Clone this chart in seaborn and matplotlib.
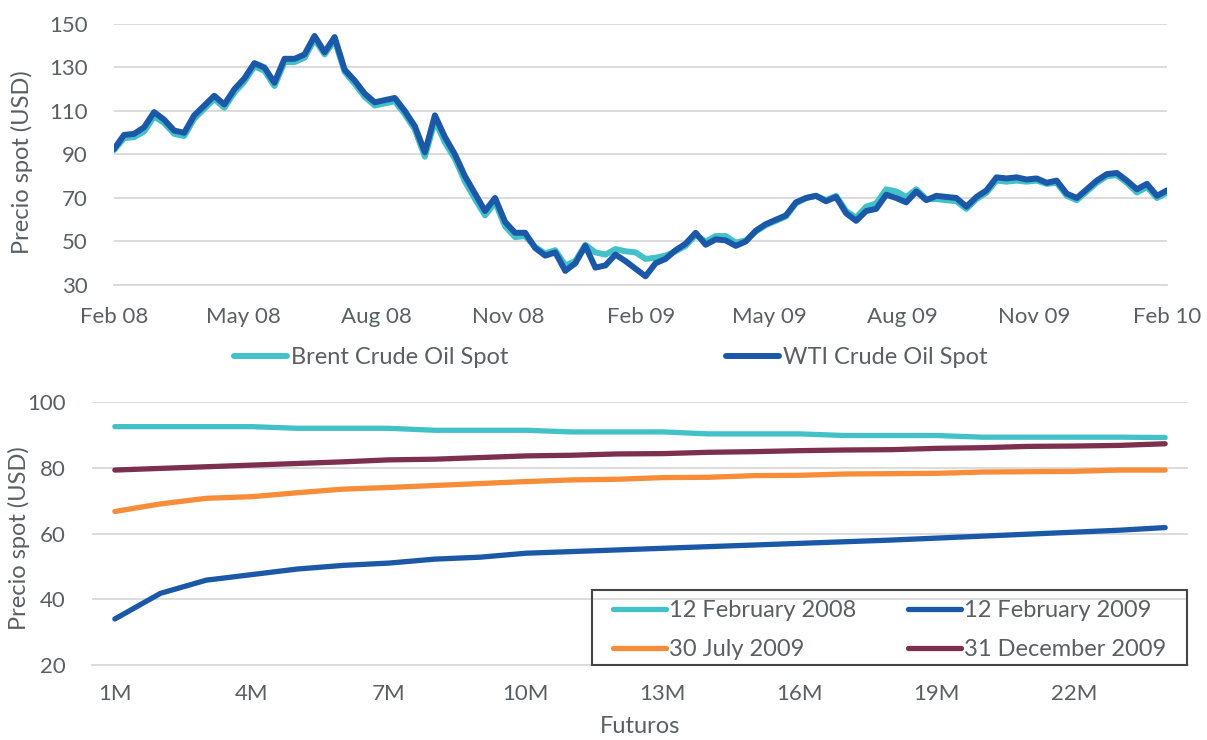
import matplotlib
matplotlib.use("Agg")
import matplotlib.pyplot as plt
import matplotlib.dates as mdates
from matplotlib.patches import Rectangle
import seaborn as sns
import pandas as pd
import numpy as np

# --- top panel: spot prices, roughly weekly from 12 Feb 2008 to 12 Feb 2010
start, end = "2008-02-12", "2010-02-12"
brent = [
    92.0, 97.5, 98.0, 100.5, 107.5, 104.5, 99.5, 98.5, 106.5, 111.0, 115.5, 111.5,
    118.5, 123.5, 130.5, 128.5, 121.5, 132.5, 132.5, 134.5, 143.0, 136.0, 142.5, 128.0,
    122.5, 116.5, 112.5, 113.5, 114.5, 108.5, 101.5, 89.0, 105.5, 95.5, 88.0, 77.5,
    69.5, 62.0, 68.0, 57.0, 52.0, 52.5, 47.5, 44.5, 46.0, 39.0, 41.0, 48.5,
    45.0, 44.0, 46.5, 45.5, 45.0, 42.0, 42.5, 43.5, 45.5, 48.0, 53.0, 50.0,
    52.5, 52.5, 49.5, 50.5, 54.5, 57.5, 59.5, 61.5, 67.5, 70.0, 71.0, 69.0,
    71.0, 64.0, 61.0, 66.0, 67.5, 74.0, 73.0, 70.5, 74.0, 69.5, 69.5, 69.0,
    68.5, 65.0, 69.5, 72.5, 78.0, 77.5, 78.0, 77.5, 78.0, 76.5, 77.0, 71.0,
    69.0, 73.0, 77.0, 80.0, 80.5, 77.0, 72.5, 75.0, 70.0, 72.5,
]
wti = [
    92.5, 99.0, 99.5, 102.5, 109.5, 106.0, 101.0, 100.0, 108.0, 112.5, 117.0, 113.0,
    120.0, 125.0, 132.0, 130.0, 123.0, 134.0, 134.0, 136.0, 144.5, 137.0, 144.0, 129.0,
    124.0, 118.0, 114.0, 115.0, 116.0, 110.0, 103.0, 91.0, 108.0, 98.0, 90.0, 80.0,
    72.0, 64.0, 70.0, 59.0, 54.0, 54.0, 47.0, 43.5, 45.0, 36.5, 40.0, 48.0,
    38.0, 39.0, 44.0, 41.0, 37.5, 34.0, 40.0, 42.0, 46.0, 49.0, 54.0, 48.5,
    51.0, 50.5, 48.0, 50.0, 55.0, 58.0, 60.0, 62.0, 68.0, 70.0, 71.0, 68.5,
    70.5, 63.0, 59.5, 64.0, 65.0, 71.5, 70.0, 68.0, 73.0, 69.0, 71.0, 70.5,
    70.0, 66.0, 70.5, 73.5, 79.5, 79.0, 79.5, 78.5, 79.0, 77.0, 78.0, 72.0,
    70.0, 74.0, 78.0, 81.0, 81.5, 78.0, 74.0, 76.5, 71.0, 73.5,
]
spot_dates = pd.date_range(start, end, periods=len(wti))

# --- bottom panel: futures curves
tenors = [f"{m}M" for m in range(1, 25)]
feb_2008 = [92.5, 92.5, 92.5, 92.5, 92.0, 92.0, 92.0, 91.4, 91.4, 91.4, 90.9, 90.9,
            90.9, 90.3, 90.3, 90.3, 89.8, 89.8, 89.8, 89.3, 89.3, 89.3, 89.3, 89.2]
feb_2009 = [34.0, 41.8, 45.8, 47.5, 49.2, 50.3, 51.0, 52.2, 52.8, 54.0, 54.5, 55.0,
            55.5, 56.0, 56.5, 57.0, 57.5, 58.0, 58.6, 59.2, 59.8, 60.4, 61.0, 61.8]
jul_2009 = [66.7, 69.0, 70.7, 71.2, 72.4, 73.5, 74.0, 74.6, 75.2, 75.8, 76.3, 76.5,
            77.0, 77.1, 77.6, 77.7, 78.1, 78.2, 78.3, 78.7, 78.8, 78.9, 79.3, 79.3]
dec_2009 = [79.3, 79.8, 80.3, 80.8, 81.3, 81.8, 82.4, 82.6, 83.1, 83.6, 83.8, 84.2,
            84.3, 84.7, 84.9, 85.2, 85.4, 85.5, 85.9, 86.1, 86.5, 86.6, 86.8, 87.3]

CYAN = "#43c1c8"
BLUE = "#1c58a8"
ORANGE = "#f78d38"
MAROON = "#7c2f4e"
TEXT = "#595f63"
GRID = "#d9d9d9"

sns.set_theme(style="white")
plt.rcParams["font.family"] = ["Lato", "DejaVu Sans"]
plt.rcParams["text.color"] = TEXT
plt.rcParams["axes.labelcolor"] = TEXT
plt.rcParams["xtick.color"] = TEXT
plt.rcParams["ytick.color"] = TEXT
plt.rcParams["lines.solid_capstyle"] = "round"
plt.rcParams["lines.solid_joinstyle"] = "round"

W, H = 1207, 740
fig = plt.figure(figsize=(W / 100, H / 100), dpi=100)
ax1 = fig.add_axes([114 / W, 1 - 285 / H, (1167 - 114) / W, (285 - 24) / H])
ax2 = fig.add_axes([92 / W, 1 - 665 / H, (1188 - 92) / W, (665 - 402) / H])

FS = 16
LFS = 17

# top chart
sns.lineplot(x=spot_dates, y=brent, ax=ax1, color=CYAN, lw=4.3, label="Brent Crude Oil Spot")
sns.lineplot(x=spot_dates, y=wti, ax=ax1, color=BLUE, lw=4.3, label="WTI Crude Oil Spot")
ax1.set_xlim(pd.Timestamp(start), pd.Timestamp(end))
ax1.set_ylim(30, 150)
ax1.set_yticks(range(30, 151, 20))
xt = pd.date_range("2008-02-01", "2010-02-01", freq="3MS") + pd.Timedelta(days=11)
ax1.set_xticks(xt)
ax1.xaxis.set_major_formatter(mdates.DateFormatter("%b %y"))
ax1.set_ylabel("Precio spot (USD)", fontsize=LFS)
ax1.set_xlabel("")
ax1.yaxis.set_label_coords((33 - 114) / (1167 - 114), 0.471)

# bottom chart
x = np.arange(len(tenors))
curves = [(feb_2008, CYAN, "12 February 2008"), (jul_2009, ORANGE, "30 July 2009"),
          (feb_2009, BLUE, "12 February 2009"), (dec_2009, MAROON, "31 December 2009")]
for vals, col, lab in curves:
    sns.lineplot(x=x, y=vals, ax=ax2, color=col, lw=3.8, label=lab)
ax2.set_xlim(-0.5, len(tenors) - 0.5)
ax2.set_ylim(20, 100)
ax2.set_yticks(range(20, 101, 20))
ax2.set_xticks(x[::3])
ax2.set_xticklabels(tenors[::3])
ax2.set_xticks(np.arange(-0.5, len(tenors), 1), minor=True)
ax2.set_ylabel("Precio spot (USD)", fontsize=LFS)
ax2.set_xlabel("Futuros", fontsize=LFS, labelpad=8)
ax2.yaxis.set_label_coords((30 - 92) / (1188 - 92), 0.483)

for ax in (ax1, ax2):
    ax.grid(axis="y", color=GRID, lw=1.3)
    ax.grid(axis="x", visible=False)
    for s in ax.spines.values():
        s.set_visible(False)
    ax.spines["bottom"].set_visible(True)
    ax.spines["bottom"].set_color(GRID)
    ax.spines["bottom"].set_linewidth(1.3)
    ax.tick_params(axis="y", length=0, labelsize=FS, pad=19)
    ax.tick_params(axis="x", labelsize=FS)
    ax.set_axisbelow(True)

ax1.tick_params(axis="x", which="major", length=7, width=1.3, color=GRID, pad=9)
ax2.tick_params(axis="x", which="major", length=0, pad=14)
ax2.tick_params(axis="x", which="minor", length=6, width=1.3, color=GRID)

# legends
h1, l1 = ax1.get_legend_handles_labels()
ax1.get_legend().remove()
fig.legend(h1, l1, loc="center", bbox_to_anchor=(611 / W, 1 - 358 / H), ncol=2,
           frameon=False, fontsize=LFS, handlelength=2.25, handletextpad=0.17,
           columnspacing=9.2)

h2, l2 = ax2.get_legend_handles_labels()
ax2.get_legend().remove()
fig.legend(h2, l2, loc="center", bbox_to_anchor=(889.5 / W, 1 - 630 / H), ncol=2,
           frameon=False, fontsize=LFS, handlelength=2.25, handletextpad=0.13,
           columnspacing=2.2, labelspacing=0.75, borderpad=0)
fig.patches.append(Rectangle((592 / W, 1 - 665 / H), (1187 - 592) / W, 75 / H,
                             transform=fig.transFigure, fill=False,
                             edgecolor="#454545", lw=1.5, zorder=5))

fig.savefig("out.png", dpi=100)
